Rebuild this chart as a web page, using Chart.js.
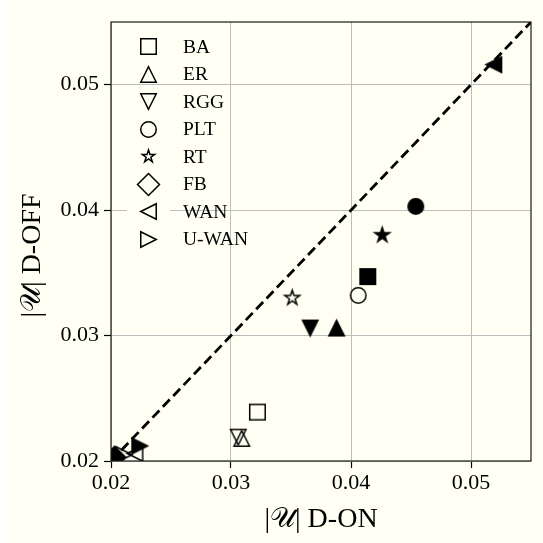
<!DOCTYPE html>
<html>
<head>
<meta charset="utf-8">
<script src="https://cdn.jsdelivr.net/npm/chart.js@4/dist/chart.umd.min.js"></script>
<style>
  html, body { margin: 0; padding: 0; background: #fffff3; }
  canvas { display: block; }
</style>
</head>
<body>
<canvas id="c" width="543" height="543"></canvas>
<script>
// Network families
const categories = ['BA', 'ER', 'RGG', 'PLT', 'RT', 'FB', 'WAN', 'U-WAN'];
const shapes     = ['square', 'up', 'down', 'circle', 'star', 'diamond', 'left', 'right'];

// Hollow markers: |U| with D-ON (x) vs D-OFF (y)
const hollowOn  = [0.0322, 0.0309, 0.0306, 0.0406, 0.0351, 0.0201, 0.0220, 0.0211];
const hollowOff = [0.0239, 0.0218, 0.0219, 0.0332, 0.0330, 0.0200, 0.0206, 0.0205];

// Solid markers
const solidOn  = [0.0414, 0.0388, 0.0366, 0.0454, 0.0426, 0.0203, 0.0519, 0.0224];
const solidOff = [0.0347, 0.0306, 0.0306, 0.0403, 0.0380, 0.0203, 0.0516, 0.0212];

// Reference diagonal y = x
const diagonal = [0.02, 0.055];

// Axis ticks
const tickValues = [0.02, 0.03, 0.04, 0.05];

const CREAM = '#fffff3';
const SERIF = "'Liberation Serif', 'DejaVu Serif', 'DejaVu Sans', serif";

function markerCanvas(shape, filled, ms, lw) {
  const size = Math.ceil(ms * 1.6 + 6);
  const c = document.createElement('canvas');
  c.width = c.height = size;
  const g = c.getContext('2d');
  g.translate(size / 2, size / 2);
  const h = ms / 2;
  g.beginPath();
  switch (shape) {
    case 'square': g.rect(-h, -h, ms, ms); break;
    case 'circle': g.arc(0, 0, h, 0, Math.PI * 2); break;
    case 'diamond': {
      const d = h * Math.SQRT2;
      g.moveTo(0, -d); g.lineTo(d, 0); g.lineTo(0, d); g.lineTo(-d, 0); g.closePath();
      break;
    }
    case 'up':    g.moveTo(0, -h); g.lineTo(h, h);  g.lineTo(-h, h);  g.closePath(); break;
    case 'down':  g.moveTo(0, h);  g.lineTo(h, -h); g.lineTo(-h, -h); g.closePath(); break;
    case 'left':  g.moveTo(-h, 0); g.lineTo(h, -h); g.lineTo(h, h);   g.closePath(); break;
    case 'right': g.moveTo(h, 0);  g.lineTo(-h, -h); g.lineTo(-h, h); g.closePath(); break;
    case 'star': {
      const inner = h * 0.381966;
      for (let i = 0; i < 10; i++) {
        const r = i % 2 === 0 ? h : inner;
        const a = -Math.PI / 2 + i * Math.PI / 5;
        const px = Math.cos(a) * r, py = Math.sin(a) * r;
        if (i === 0) g.moveTo(px, py); else g.lineTo(px, py);
      }
      g.closePath();
      break;
    }
  }
  if (filled) { g.fillStyle = '#000'; g.fill(); }
  g.lineWidth = lw;
  g.strokeStyle = '#000';
  g.lineJoin = 'miter';
  g.stroke();
  return c;
}

const MS = 15.5;
const hollowStyles = shapes.map(s => markerCanvas(s, false, MS, 1.5));
const solidStyles  = shapes.map(s => markerCanvas(s, true, MS, 1.5));
const legendStyles = shapes.map(s => markerCanvas(s, false, s === 'star' ? 13 : MS, 1.5));

const toPoints = (xs, ys) => xs.map((x, i) => ({ x, y: ys[i] }));

// Page background, with a narrow white strip on the left edge
const backgroundPlugin = {
  id: 'background',
  beforeDraw(chart) {
    const ctx = chart.ctx;
    ctx.save();
    ctx.fillStyle = CREAM;
    ctx.fillRect(0, 0, chart.width, chart.height);
    ctx.fillStyle = '#ffffff';
    ctx.fillRect(0, 0, 7, chart.height);
    ctx.restore();
  }
};

// Legend inside the axes, upper left, showing the hollow markers
const innerLegendPlugin = {
  id: 'innerLegend',
  afterDatasetsDraw(chart) {
    const ctx = chart.ctx;
    const x0 = chart.chartArea.left;
    const y0 = chart.chartArea.top;
    ctx.save();
    categories.forEach((name, i) => {
      const cy = y0 + 24.5 + i * 27.5;
      const mx = x0 + 37;
      ctx.fillStyle = CREAM;
      ctx.fillRect(mx - 21, cy - 3, 43, 6);
      const img = legendStyles[i];
      ctx.drawImage(img, Math.round(mx - img.width / 2), Math.round(cy - img.height / 2));
      ctx.fillStyle = '#000';
      ctx.font = '19.5px ' + SERIF;
      ctx.textBaseline = 'middle';
      ctx.textAlign = 'left';
      ctx.fillText(name, x0 + 72, cy + 1);
    });
    ctx.restore();
  }
};

// Axes frame drawn on all four sides
const framePlugin = {
  id: 'frame',
  afterDraw(chart) {
    const { left, right, top, bottom } = chart.chartArea;
    const ctx = chart.ctx;
    ctx.save();
    ctx.strokeStyle = '#1a1a1a';
    ctx.lineWidth = 1.2;
    ctx.strokeRect(left, top, right - left, bottom - top);
    ctx.restore();
  }
};

const fixedTicks = scale => { scale.ticks = tickValues.map(v => ({ value: v })); };

new Chart(document.getElementById('c'), {
  data: {
    datasets: [
      {
        type: 'line',
        label: 'y = x',
        data: toPoints(diagonal, diagonal),
        borderColor: '#000',
        borderWidth: 2.8,
        borderDash: [10, 5],
        pointRadius: 0,
        fill: false,
        clip: 0,
        order: 0
      },
      {
        type: 'scatter',
        label: 'hollow',
        data: toPoints(hollowOn, hollowOff),
        pointStyle: hollowStyles,
        pointRadius: 8,
        clip: 0,
        order: 1
      },
      {
        type: 'scatter',
        label: 'solid',
        data: toPoints(solidOn, solidOff),
        pointStyle: solidStyles,
        pointRadius: 8,
        clip: 0,
        order: 2
      }
    ]
  },
  options: {
    responsive: false,
    devicePixelRatio: 1,
    animation: false,
    layout: { padding: { left: 0, top: 22, right: 12, bottom: 0 } },
    plugins: {
      legend: { display: false },
      tooltip: { enabled: false }
    },
    scales: {
      x: {
        type: 'linear',
        min: 0.02,
        max: 0.055,
        afterBuildTicks: fixedTicks,
        afterFit: s => { s.height = 82; },
        border: { display: false },
        grid: {
          color: '#bdbdbd',
          lineWidth: 1,
          tickColor: '#000',
          tickLength: 7,
          tickWidth: 1.2
        },
        ticks: {
          color: '#000',
          padding: 2,
          maxRotation: 0,
          font: { family: SERIF, size: 22 },
          callback: v => v.toFixed(2)
        },
        title: {
          display: true,
          text: '|𝒰| D-ON',
          color: '#000',
          font: { family: SERIF, size: 28 },
          padding: { top: 0, bottom: 7 }
        }
      },
      y: {
        type: 'linear',
        min: 0.02,
        max: 0.055,
        afterBuildTicks: fixedTicks,
        afterFit: s => { s.width = 111; },
        border: { display: false },
        grid: {
          color: '#bdbdbd',
          lineWidth: 1,
          tickColor: '#000',
          tickLength: 7,
          tickWidth: 1.2
        },
        ticks: {
          color: '#000',
          padding: 5,
          font: { family: SERIF, size: 22 },
          callback: v => v.toFixed(2)
        },
        title: {
          display: true,
          text: '|𝒰| D-OFF    ',
          color: '#000',
          font: { family: SERIF, size: 28 },
          padding: { top: 16, bottom: 0 }
        }
      }
    }
  },
  plugins: [backgroundPlugin, innerLegendPlugin, framePlugin]
});
</script>
</body>
</html>
